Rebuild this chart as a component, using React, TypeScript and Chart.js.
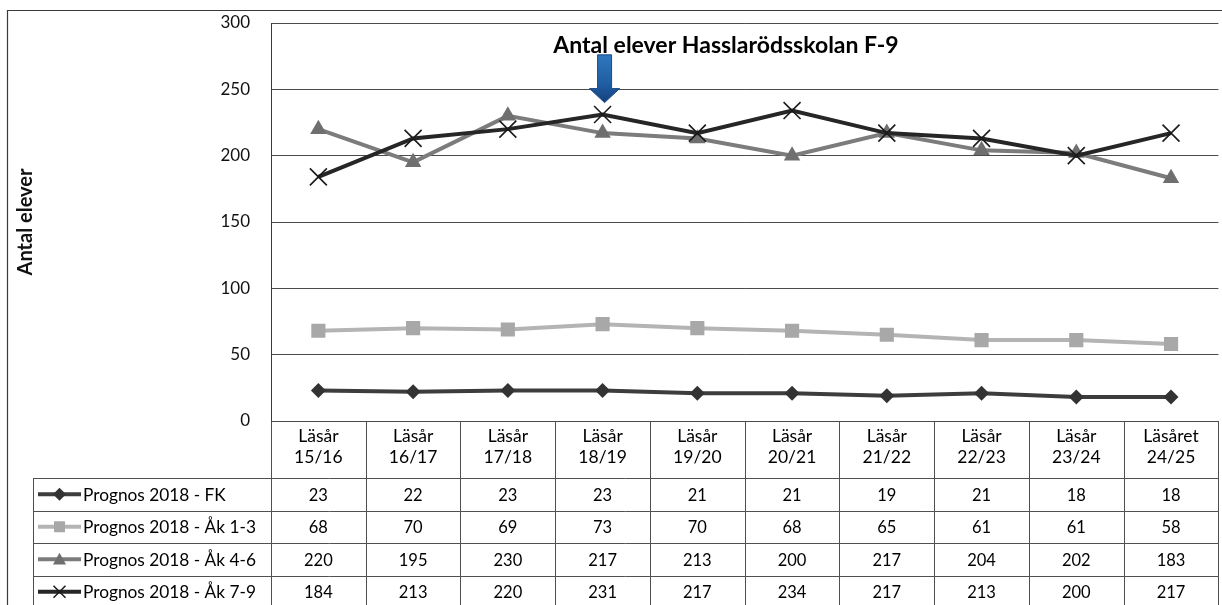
import React, { useEffect, useRef } from "react";
import { Chart, registerables } from "chart.js";

Chart.register(...registerables);

// ---------- data ----------
const categories: string[][] = [
  ["Läsår", "15/16"],
  ["Läsår", "16/17"],
  ["Läsår", "17/18"],
  ["Läsår", "18/19"],
  ["Läsår", "19/20"],
  ["Läsår", "20/21"],
  ["Läsår", "21/22"],
  ["Läsår", "22/23"],
  ["Läsår", "23/24"],
  ["Läsåret", "24/25"],
];
const seriesNames = [
  "Prognos 2018 - FK",
  "Prognos 2018 - Åk 1-3",
  "Prognos 2018 - Åk 4-6",
  "Prognos 2018 - Åk 7-9",
];
const fkValues = [23, 22, 23, 23, 21, 21, 19, 21, 18, 18];
const ak13Values = [68, 70, 69, 73, 70, 68, 65, 61, 61, 58];
const ak46Values = [220, 195, 230, 217, 213, 200, 217, 204, 202, 183];
const ak79Values = [184, 213, 220, 231, 217, 234, 217, 213, 200, 217];
const yMin = 0;
const yMax = 300;
const yStep = 50;
const chartTitle = "Antal elever Hasslarödsskolan F-9";
const yAxisTitle = "Antal elever";
// blue arrow annotation: category index and value range it spans
const arrowCategoryIndex = 3;
const arrowTopValue = 276;
const arrowTipValue = 240;

// ---------- styles ----------
const FONT = "Lato, 'Open Sans', sans-serif";
const seriesStyles = [
  { line: "#3d3d3d", point: "#333333", shape: "diamond" },
  { line: "#b4b4b4", point: "#a8a8a8", shape: "square" },
  { line: "#7c7c7c", point: "#6f6f6f", shape: "triangle" },
  { line: "#262626", point: "#1a1a1a", shape: "cross" },
];
const seriesValues = [fkValues, ak13Values, ak46Values, ak79Values];

function drawMarker(ctx: CanvasRenderingContext2D, shape: string, x: number, y: number, r: number, color: string) {
  ctx.save();
  ctx.fillStyle = color;
  ctx.strokeStyle = color;
  ctx.beginPath();
  if (shape === "diamond") {
    ctx.moveTo(x, y - r);
    ctx.lineTo(x + r, y);
    ctx.lineTo(x, y + r);
    ctx.lineTo(x - r, y);
    ctx.closePath();
    ctx.fill();
  } else if (shape === "square") {
    ctx.rect(x - r, y - r, 2 * r, 2 * r);
    ctx.fill();
  } else if (shape === "triangle") {
    ctx.moveTo(x, y - r);
    ctx.lineTo(x + r, y + r * 0.8);
    ctx.lineTo(x - r, y + r * 0.8);
    ctx.closePath();
    ctx.fill();
  } else {
    ctx.lineWidth = 1.5;
    ctx.moveTo(x - r, y - r);
    ctx.lineTo(x + r, y + r);
    ctx.moveTo(x + r, y - r);
    ctx.lineTo(x - r, y + r);
    ctx.stroke();
  }
  ctx.restore();
}

const decorPlugin = {
  id: "decor",
  beforeDraw(chart: any) {
    const { ctx, width, height } = chart;
    ctx.save();
    ctx.fillStyle = "#ffffff";
    ctx.fillRect(0, 0, width, height);
    ctx.strokeStyle = "#3a3a3a";
    ctx.lineWidth = 1.2;
    ctx.beginPath();
    ctx.moveTo(7.5, height);
    ctx.lineTo(7.5, 10.5);
    ctx.lineTo(width, 10.5);
    ctx.stroke();
    ctx.restore();
  },
  afterDraw(chart: any) {
    const { ctx, chartArea: a, height } = chart;
    const xs = chart.scales.x;
    const ys = chart.scales.y;
    const n = categories.length;
    const cw = (a.right - a.left) / n;
    const headerTop = a.bottom;
    const headerBottom = headerTop + 57;
    const rowH = 32.5;
    const legendLeft = 33;

    ctx.save();
    // grid of data table
    ctx.strokeStyle = "#505050";
    ctx.lineWidth = 1;
    ctx.beginPath();
    for (let k = 0; k <= n; k++) {
      const x = Math.round(a.left + k * cw) + 0.5;
      ctx.moveTo(x, headerTop);
      ctx.lineTo(x, height);
    }
    ctx.moveTo(legendLeft + 0.5, headerBottom);
    ctx.lineTo(legendLeft + 0.5, height);
    for (let r = 0; r <= seriesNames.length; r++) {
      const y = Math.round(headerBottom + r * rowH) + 0.5;
      ctx.moveTo(legendLeft, y);
      ctx.lineTo(a.right, y);
    }
    ctx.stroke();

    // header labels
    ctx.fillStyle = "#000";
    ctx.textAlign = "center";
    ctx.textBaseline = "middle";
    ctx.font = `17.5px ${FONT}`;
    categories.forEach((lines, i) => {
      const cx = xs.getPixelForValue(i);
      ctx.fillText(lines[0], cx, headerTop + 15);
      ctx.fillText(lines[1], cx, headerTop + 36);
    });

    // rows
    seriesNames.forEach((name, r) => {
      const cy = headerBottom + r * rowH + rowH / 2;
      const st = seriesStyles[r];
      // legend key
      ctx.save();
      ctx.strokeStyle = st.line;
      ctx.lineWidth = 4;
      ctx.beginPath();
      ctx.moveTo(38, cy);
      ctx.lineTo(81, cy);
      ctx.stroke();
      ctx.restore();
      const mr = st.shape === "cross" ? 6 : st.shape === "square" ? 5.5 : 6.5;
      drawMarker(ctx, st.shape, 59.5, cy, mr, st.point);
      ctx.fillStyle = "#000";
      ctx.textAlign = "left";
      ctx.font = `17.3px ${FONT}`;
      ctx.fillText(name, 83, cy + 1);
      ctx.textAlign = "center";
      ctx.font = `16.5px ${FONT}`;
      seriesValues[r].forEach((v, i) => {
        ctx.fillText(String(v), xs.getPixelForValue(i), cy + 1);
      });
    });

    // chart title
    ctx.fillStyle = "#000";
    ctx.font = `bold 23px ${FONT}`;
    ctx.textAlign = "center";
    ctx.textBaseline = "alphabetic";
    ctx.fillText(chartTitle, 726, 53);

    // blue arrow
    const ax = xs.getPixelForValue(arrowCategoryIndex) + 2;
    const top = ys.getPixelForValue(arrowTopValue);
    const tip = ys.getPixelForValue(arrowTipValue);
    const headH = 14;
    const shaftW = 14;
    const headW = 30;
    const grad = ctx.createLinearGradient(0, top, 0, tip);
    grad.addColorStop(0, "#2f78be");
    grad.addColorStop(0.6, "#1f5ea3");
    grad.addColorStop(1, "#163f7c");
    ctx.fillStyle = grad;
    ctx.strokeStyle = "#1a4a85";
    ctx.lineWidth = 1;
    ctx.beginPath();
    ctx.moveTo(ax - shaftW / 2, top);
    ctx.lineTo(ax + shaftW / 2, top);
    ctx.lineTo(ax + shaftW / 2, tip - headH);
    ctx.lineTo(ax + headW / 2, tip - headH);
    ctx.lineTo(ax, tip);
    ctx.lineTo(ax - headW / 2, tip - headH);
    ctx.lineTo(ax - shaftW / 2, tip - headH);
    ctx.closePath();
    ctx.fill();
    ctx.stroke();
    ctx.restore();
  },
};

function makePointStyle(shape: string) {
  if (shape === "diamond") return "rectRot";
  if (shape === "square") return "rect";
  if (shape === "triangle") return "triangle";
  return "crossRot";
}

export default function App() {
  const canvasRef = useRef<HTMLCanvasElement | null>(null);

  useEffect(() => {
    const canvas = canvasRef.current;
    if (!canvas) return;
    const radii = [7.5, 10, 9.5, 12];
    const orders = [4, 3, 2, 1];
    const chart = new Chart(canvas, {
      type: "line",
      data: {
        labels: categories.map((c) => c.join(" ")),
        datasets: seriesNames.map((name, i) => ({
          label: name,
          data: seriesValues[i],
          borderColor: seriesStyles[i].line,
          backgroundColor: seriesStyles[i].point,
          pointBackgroundColor: seriesStyles[i].point,
          pointBorderColor: seriesStyles[i].point,
          pointBorderWidth: seriesStyles[i].shape === "cross" ? 1.6 : 0,
          borderWidth: 4,
          pointStyle: makePointStyle(seriesStyles[i].shape),
          pointRadius: radii[i],
          tension: 0,
          order: orders[i],
        })),
      },
      options: {
        animation: false,
        responsive: false,
        devicePixelRatio: 1,
        layout: { padding: { left: 12, top: 23, right: 5, bottom: 184 } },
        plugins: {
          legend: { display: false },
          title: { display: false },
          tooltip: { enabled: false },
        },
        scales: {
          x: {
            type: "category",
            display: false,
            offset: true,
          },
          y: {
            min: yMin,
            max: yMax,
            ticks: {
              stepSize: yStep,
              padding: 0,
              color: "#111",
              font: { family: FONT, size: 17 },
            },
            grid: {
              color: "#4a4a4a",
              lineWidth: 1,
              drawTicks: true,
              tickLength: 21,
              tickColor: "rgba(0,0,0,0)",
            },
            border: { display: true, color: "#3a3a3a", width: 1 },
            title: {
              display: true,
              text: yAxisTitle,
              color: "#111",
              font: { family: FONT, size: 20, weight: "bold" },
              padding: { top: 2, bottom: 2 },
            },
            afterFit(scale: any) {
              scale.width = 259;
            },
          },
        },
      },
      plugins: [decorPlugin],
    } as any);
    return () => chart.destroy();
  }, []);

  return (
    <div
      style={{
        position: "fixed",
        left: 0,
        top: 0,
        width: 1222,
        height: 605,
        overflow: "hidden",
        background: "#fff",
      }}
    >
      <canvas ref={canvasRef} width={1232} height={605} style={{ display: "block", width: 1232, height: 605 }} />
    </div>
  );
}
